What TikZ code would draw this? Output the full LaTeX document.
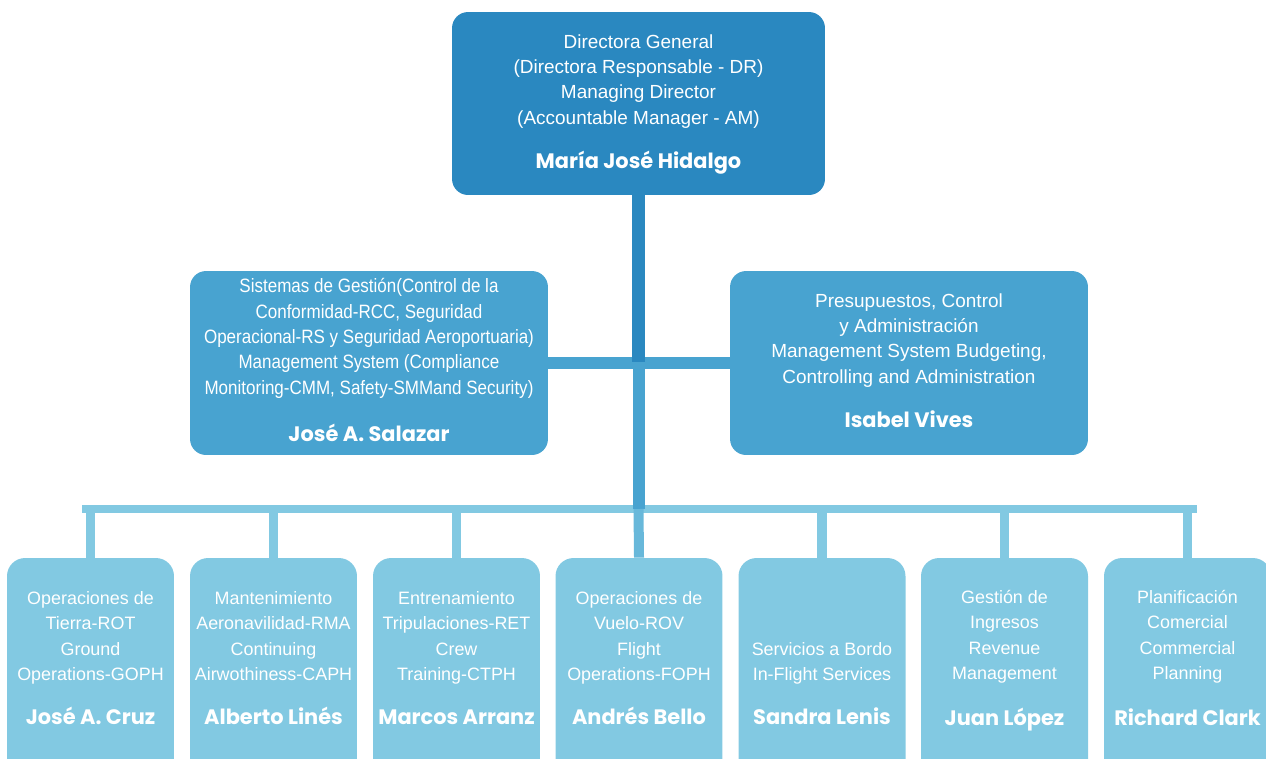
\documentclass[tikz,border=0pt]{standalone}
\usepackage{fontspec}
\setmainfont{Liberation Sans}
\newfontfamily\condfont{Liberation Sans}[FakeStretch=0.88]
\newfontfamily\namefont{Poppins}
\definecolor{topblue}{HTML}{2A88C0}
\definecolor{midblue}{HTML}{48A3D0}
\definecolor{lowblue}{HTML}{82C9E2}

\begin{document}
\begin{tikzpicture}[x=0.02cm,y=-0.02cm,
  box/.style={rounded corners=0.32cm,inner sep=0pt},
  top box/.style={box,fill=topblue,minimum width=7.46cm,minimum height=3.66cm},
  mid box/.style={box,fill=midblue,minimum width=7.16cm,minimum height=3.68cm},
  low box/.style={box,fill=lowblue,minimum width=3.34cm,minimum height=4.6cm,rounded corners=0.36cm},
  desc/.style={text=white,align=center,inner sep=0pt,anchor=south,font=\fontsize{10.8}{14.4}\selectfont,execute at end node=\strut},
  low desc/.style={desc,font=\fontsize{10.2}{14.3}\selectfont},
  person/.style={text=white,inner sep=0pt,anchor=base,font=\namefont\bfseries\fontsize{11.9}{14}\selectfont},
  link/.style={line cap=butt}]

\useasboundingbox (0,0) rectangle (1266,758);
\clip (0,0) rectangle (1266,758);

% boxes
\node[top box] (dg) at (638.5,103.5) {};
\node[mid box] (sg) at (369,363) {};
\node[mid box] (pca) at (909,363) {};
\node[low box] (rot) at (90.5,673) {};
\node[low box] (rma) at (273.5,673) {};
\node[low box] (ret) at (456.5,673) {};
\node[low box] (rov) at (639,673) {};
\node[low box] (sab) at (822,673) {};
\node[low box] (gir) at (1004.5,673) {};
\node[low box] (pco) at (1187.5,673) {};

% connectors
\coordinate (hub) at (638.5,362);
\coordinate (busL) at (82,509);
\coordinate (busR) at (1197,509);
\draw[link,midblue,line width=0.24cm] (sg.east) -- (pca.west);
\draw[link,lowblue,line width=0.16cm] (busL) -- (busR);
\draw[link,lowblue,line width=0.19cm] (rot.north) -- (rot.north |- busL)
  (rma.north) -- (rma.north |- busL)
  (ret.north) -- (ret.north |- busL)
  (sab.north) -- (sab.north |- busL)
  (gir.north) -- (gir.north |- busL)
  (pco.north) -- (pco.north |- busL);
\draw[link,topblue,line width=0.25cm] (dg.south) -- (hub);
\draw[link,midblue,line width=0.24cm] (hub) -- (hub |- busL);
\draw[link,midblue!45!lowblue,line width=0.2cm] (hub |- busL) -- (rov.north);

% texts
\node[desc] (dgt) at (638.5,132) {Directora General\\(Directora Responsable - DR)\\Managing Director\\(Accountable Manager - AM)};
\node[person] (dgn) at (638.5,168) {María José Hidalgo};
\node[desc,font=\condfont\fontsize{11}{14.4}\selectfont] (sgt) at (369,402) {Sistemas de Gestión(Control de la\\Conformidad-RCC, Seguridad\\Operacional-RS y Seguridad Aeroportuaria)\\Management System (Compliance\\Monitoring-CMM, Safety-SMMand Security)};
\node[person] (sgn) at (369,441) {José A. Salazar};
\node[desc] (pcat) at (909,391) {Presupuestos, Control\\y Administración\\Management System Budgeting,\\Controlling and Administration};
\node[person] (pcan) at (909,427) {Isabel Vives};

\node[low desc] (rott) at (90.5,688) {Operaciones de\\Tierra-ROT\\Ground\\Operations-GOPH};
\node[person] (rotn) at (90.5,724) {José A. Cruz};
\node[low desc] (rmat) at (273.5,688) {Mantenimiento\\Aeronavilidad-RMA\\Continuing\\Airwothiness-CAPH};
\node[person] (rman) at (273.5,724) {Alberto Linés};
\node[low desc] (rett) at (456.5,688) {Entrenamiento\\Tripulaciones-RET\\Crew\\Training-CTPH};
\node[person] (retn) at (456.5,724) {Marcos Arranz};
\node[low desc] (rovt) at (639,688) {Operaciones de\\Vuelo-ROV\\Flight\\Operations-FOPH};
\node[person] (rovn) at (639,724) {Andrés Bello};
\node[low desc] (sabt) at (822,688) {Servicios a Bordo\\In-Flight Services};
\node[person] (sabn) at (822,724) {Sandra Lenis};
\node[low desc] (girt) at (1004.5,687) {Gestión de\\Ingresos\\Revenue\\Management};
\node[person] (girn) at (1004.5,725) {Juan López};
\node[low desc] (pcot) at (1187.5,687) {Planificación\\Comercial\\Commercial\\Planning};
\node[person] (pcon) at (1187.5,725) {Richard Clark};

\end{tikzpicture}
\end{document}
